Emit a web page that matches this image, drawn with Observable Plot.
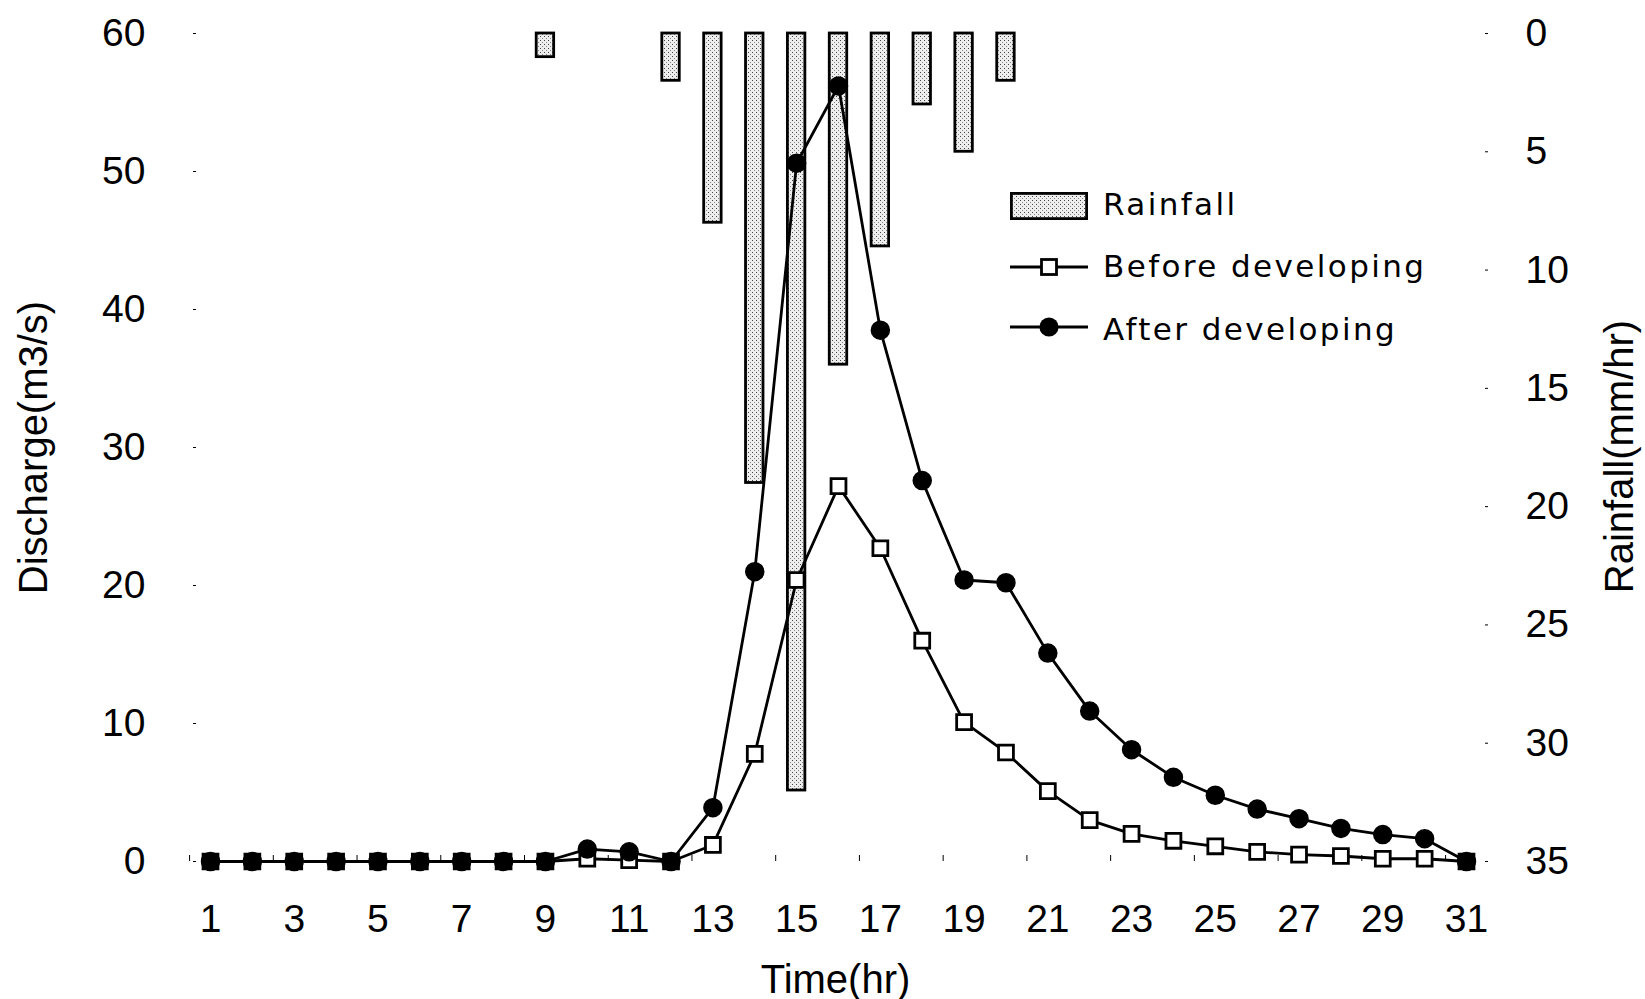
<!DOCTYPE html>
<html>
<head>
<meta charset="utf-8">
<script src="https://cdn.jsdelivr.net/npm/d3@7"></script>
<script src="https://cdn.jsdelivr.net/npm/@observablehq/plot@0.6"></script>
<style>
  html, body { margin: 0; padding: 0; background: white; }
  #wrap { position: relative; width: 1645px; height: 999px; }
  #legend { position: absolute; left: 0; top: 0; pointer-events: none; }
</style>
</head>
<body>
<svg width="0" height="0" style="position:absolute">
  <defs>
    <pattern id="stipple" width="4" height="4" patternUnits="userSpaceOnUse">
      <rect width="4" height="4" fill="#eeeeee"></rect>
      <rect x="0" y="0" width="1" height="1" fill="#444"></rect>
      <rect x="2" y="2" width="1" height="1" fill="#888"></rect>
    </pattern>
  </defs>
</svg>
<div id="wrap"></div>
<script>
// ---- data ----
const hours = [1,2,3,4,5,6,7,8,9,10,11,12,13,14,15,16,17,18,19,20,21,22,23,24,25,26,27,28,29,30,31];
const beforeDev = [0,0,0,0,0,0,0,0,0,0.2,0.1,0,1.2,7.8,20.4,27.2,22.7,16.0,10.1,7.9,5.1,3.0,2.0,1.5,1.1,0.7,0.5,0.4,0.2,0.2,0];
const afterDev  = [0,0,0,0,0,0,0,0,0,0.9,0.7,0,3.9,21.0,50.6,56.2,38.5,27.6,20.4,20.2,15.1,10.9,8.1,6.1,4.8,3.8,3.1,2.4,1.95,1.65,0];
const rainHours = [9,12,13,14,15,16,17,18,19,20];
const rainfall  = [1,2,8,19,32,14,9,3,5,2];
const xTicks = [1,3,5,7,9,11,13,15,17,19,21,23,25,27,29,31];
const xMinorTicks = [0.5,2.5,4.5,6.5,8.5,10.5,12.5,14.5,16.5,18.5,20.5,22.5,24.5,26.5,28.5,30.5];
const yTicks = [0,10,20,30,40,50,60];
const rainTicks = [0,5,10,15,20,25,30,35];
const legendLabels = ["Rainfall","Before developing","After developing"];

// ---- tables ----
const rows = hours.map((h, i) => ({hour: h, before: beforeDev[i], after: afterDev[i]}));
const rainRows = rainHours.map((h, i) => ({hour: h, rain: rainfall[i]}));

// secondary (rainfall) axis, reversed, mapped onto the discharge scale
const rainToY = d3.scaleLinear().domain([0, 35]).range([60, 0]);

const chart = Plot.plot({
  width: 1645,
  height: 999,
  marginTop: 33,
  marginBottom: 138,
  marginLeft: 196,
  marginRight: 161,
  style: {fontFamily: "'Liberation Sans', Arial, sans-serif", fontSize: "39px", background: "white", color: "black", overflow: "visible"},
  x: {domain: [1, 31], range: [210, 1466]},
  y: {domain: [0, 60]},
  marks: [
    Plot.rect(rainRows, {
      x1: d => d.hour - 0.5, x2: d => d.hour + 0.5,
      y1: () => rainToY(0), y2: d => rainToY(d.rain),
      insetLeft: 12.2, insetRight: 12.2,
      fill: "url(#stipple)", stroke: "black", strokeWidth: 2.8
    }),
    Plot.line(rows, {x: "hour", y: "before", stroke: "black", strokeWidth: 2.8}),
    Plot.dot(rows, {x: "hour", y: "before", symbol: "square", r: 8.4, fill: "white", stroke: "black", strokeWidth: 2.8}),
    Plot.line(rows, {x: "hour", y: "after", stroke: "black", strokeWidth: 2.8}),
    Plot.dot(rows, {x: "hour", y: "after", r: 9, fill: "black", stroke: "black", strokeWidth: 1.5}),
    Plot.axisY(yTicks, {anchor: "left", tickSize: 3, tickPadding: 48, label: null}),
    Plot.axisY(rainTicks.map(r => rainToY(r)), {anchor: "right", tickSize: 3, tickPadding: 38, label: null,
      tickFormat: v => String(Math.round(rainToY.invert(v)))}),
    Plot.axisX(xTicks, {tickSize: 0, tickPadding: 43, label: null}),
    Plot.axisX(xMinorTicks, {tickSize: 6, dy: -6, tickFormat: () => "", label: null}),
    Plot.text(["Discharge(m3/s)"], {text: d => d, frameAnchor: "left", textAnchor: "middle", lineAnchor: "middle", rotate: -90, dx: -162, fontSize: 40}),
    Plot.text(["Rainfall(mm/hr)"], {text: d => d, frameAnchor: "right", textAnchor: "middle", lineAnchor: "middle", rotate: -90, dx: 136, dy: 9, fontSize: 40}),
    Plot.text(["Time(hr)"], {text: d => d, frameAnchor: "bottom", textAnchor: "middle", lineAnchor: "middle", dx: -5, dy: 119, fontSize: 40})
  ]
});
document.getElementById("wrap").appendChild(chart);

// ---- legend (overlay) ----
const lg = d3.select("#wrap").append("svg")
  .attr("id", "legend").attr("width", 1645).attr("height", 999);
const lx0 = 1010, lx1 = 1088, tx = 1103;
const rowsY = [206, 267, 327];
lg.append("rect").attr("x", lx0 + 1.4).attr("y", 193.4).attr("width", lx1 - lx0 - 2.8).attr("height", 25.2)
  .attr("fill", "url(#stipple)").attr("stroke", "black").attr("stroke-width", 2.8);
lg.append("line").attr("x1", lx0).attr("x2", lx1).attr("y1", rowsY[1]).attr("y2", rowsY[1])
  .attr("stroke", "black").attr("stroke-width", 2.8);
lg.append("rect").attr("x", (lx0 + lx1) / 2 - 7.5).attr("y", rowsY[1] - 7.5).attr("width", 15).attr("height", 15)
  .attr("fill", "white").attr("stroke", "black").attr("stroke-width", 2.8);
lg.append("line").attr("x1", lx0).attr("x2", lx1).attr("y1", rowsY[2]).attr("y2", rowsY[2])
  .attr("stroke", "black").attr("stroke-width", 2.8);
lg.append("circle").attr("cx", (lx0 + lx1) / 2).attr("cy", rowsY[2]).attr("r", 9.6).attr("fill", "black");
const baselines = [215, 277, 340];
legendLabels.forEach((t, i) => {
  lg.append("text").attr("x", tx).attr("y", baselines[i]).text(t)
    .attr("font-family", "'DejaVu Sans', sans-serif").attr("font-size", 31)
    .attr("letter-spacing", "2.4px").attr("fill", "black");
});
</script>
</body>
</html>
